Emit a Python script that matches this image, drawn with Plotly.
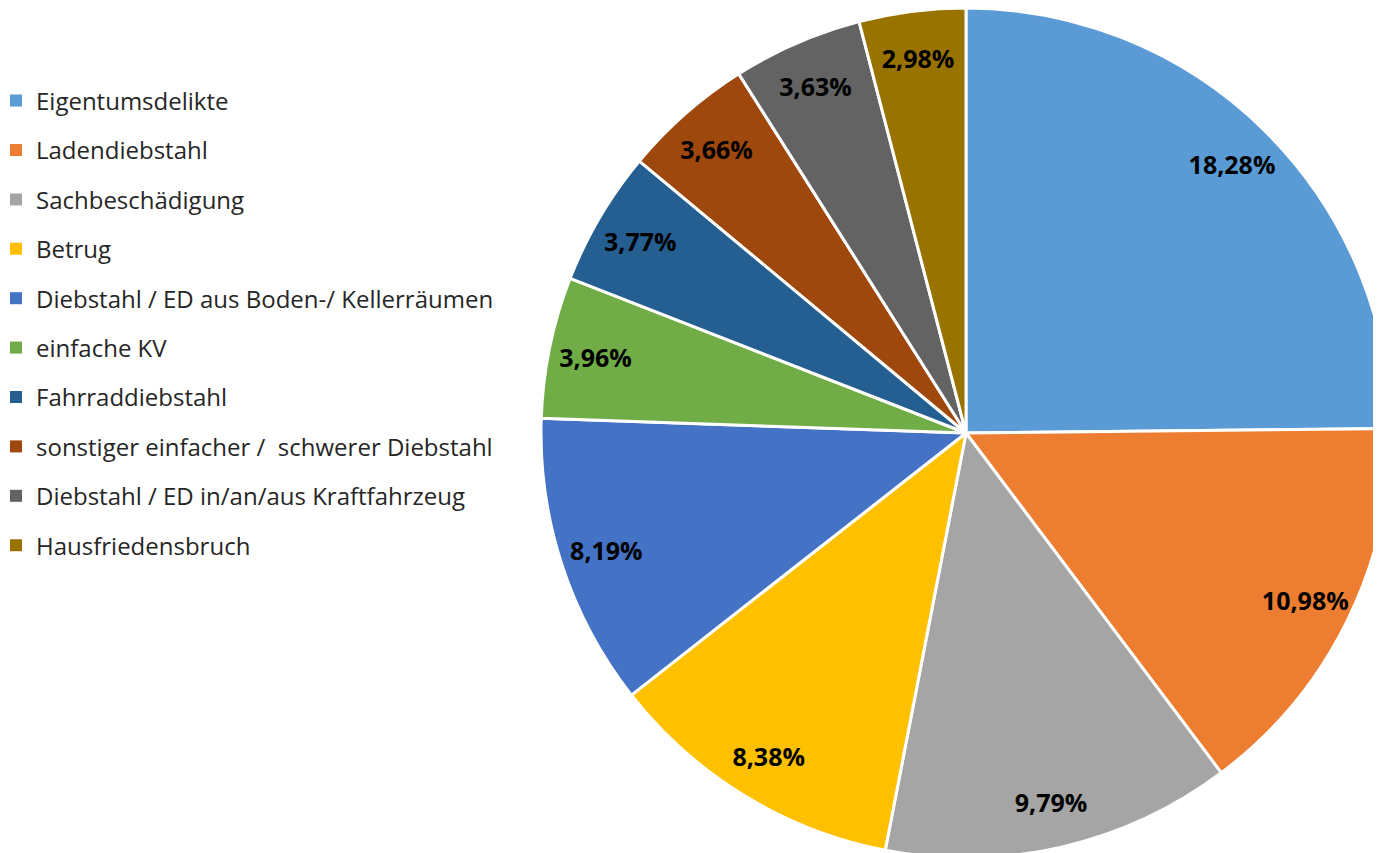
import plotly.graph_objects as go

categories = [
    "Eigentumsdelikte",
    "Ladendiebstahl",
    "Sachbeschädigung",
    "Betrug",
    "Diebstahl / ED aus Boden-/ Kellerräumen",
    "einfache KV",
    "Fahrraddiebstahl",
    "sonstiger einfacher /  schwerer Diebstahl",
    "Diebstahl / ED in/an/aus Kraftfahrzeug",
    "Hausfriedensbruch",
]
values = [18.28, 10.98, 9.79, 8.38, 8.19, 3.96, 3.77, 3.66, 3.63, 2.98]
colors = ["#5B9BD5", "#ED7D31", "#A5A5A5", "#FFC000", "#4472C4",
          "#70AD47", "#255E91", "#9E480E", "#636363", "#997300"]

labels_text = [f"{v:.2f}".replace(".", ",") + "%" for v in values]

W, H = 1400, 853
pie_domain = dict(x=[532 / W, 1384 / W], y=[(H - 850) / H, 1.0])

fig = go.Figure()
# coloured slices
fig.add_trace(go.Pie(
    labels=categories,
    values=values,
    text=labels_text,
    textinfo="none",
    sort=False,
    direction="clockwise",
    rotation=0,
    marker=dict(colors=colors, line=dict(color="white", width=3)),
    showlegend=False,
    hoverinfo="label+text",
    domain=pie_domain,
))
# data labels placed in the outer ring of each slice
fig.add_trace(go.Pie(
    labels=categories,
    values=values,
    text=labels_text,
    texttemplate="%{text}",
    textposition="inside",
    insidetextorientation="horizontal",
    hole=0.78,
    sort=False,
    direction="clockwise",
    rotation=0,
    marker=dict(colors=["rgba(0,0,0,0)"] * len(values), line=dict(width=0)),
    insidetextfont=dict(family="Open Sans", size=25, color="black", weight="bold"),
    showlegend=False,
    hoverinfo="skip",
    domain=pie_domain,
))

# legend entries (one per category) with spacing like the original
for cat, col in zip(categories, colors):
    fig.add_trace(go.Scatter(
        x=[None], y=[None], mode="markers", name=cat,
        marker=dict(symbol="square", size=12, color=col),
        legendgroup=cat, showlegend=True,
    ))

fig.update_layout(
    width=W, height=H,
    margin=dict(l=0, r=0, t=0, b=0),
    paper_bgcolor="white", plot_bgcolor="white",
    xaxis=dict(visible=False), yaxis=dict(visible=False),
    legend=dict(
        x=0, y=1 - 70.5 / H, xanchor="left", yanchor="top",
        font=dict(family="Open Sans", size=24, color="#262626"),
        tracegroupgap=15.2, indentation=-12,
        itemclick=False, bgcolor="rgba(0,0,0,0)",
    ),
    uniformtext=dict(minsize=25, mode="show"),
)

fig.write_html("out.html")
